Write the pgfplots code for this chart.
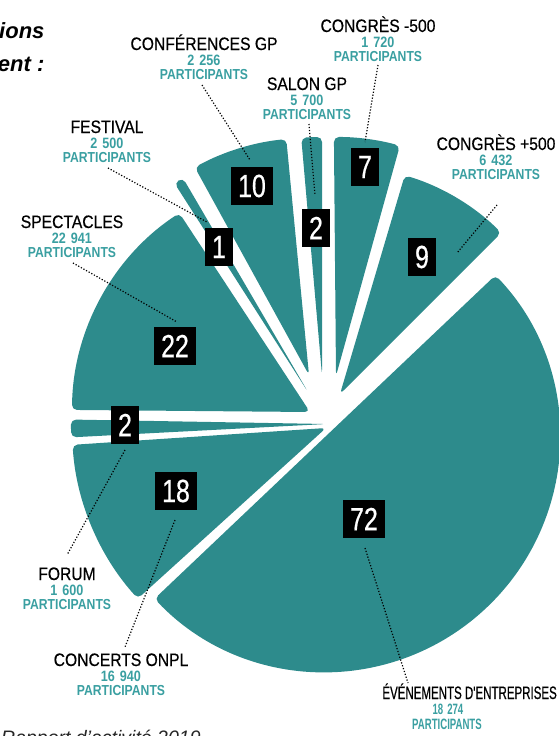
\documentclass[border=0pt]{standalone}
\usepackage{pgfplots}
\usepackage{pgfplotstable}
\pgfplotsset{compat=1.18}
\usepackage{fontspec}
\setmainfont{Liberation Sans}
\newfontfamily\cond{Liberation Sans}[FakeStretch=0.87, FakeBold=0.5]
\newfontfamily\condb{Liberation Sans}[FakeStretch=0.84]
\newfontfamily\condx{Liberation Sans}[FakeStretch=0.64, FakeBold=0.5]
\newfontfamily\condxb{Liberation Sans}[FakeStretch=0.64]
\newfontfamily\condn{Liberation Sans}[FakeStretch=0.78, FakeBold=0.6]

\definecolor{slice}{HTML}{2D8B8C}
\definecolor{num}{HTML}{3A9FA1}

\tikzset{
  boxnum/.style={fill=black, text=white, font=\condn\fontsize{32}{32}\selectfont,
    minimum height=38pt, inner xsep=7pt, inner ysep=0pt},
  leader/.style={black, line width=1.2pt, dash pattern=on 1.2pt off 1.8pt}}

% count, participants, apex (px, y down), angles, radius, box centre
\pgfplotstableread{
count part  ax  ay  aa    ab    r   bx  by
72 18274 325 437 223.5 403.5 235 364 519
18 16940 326 428 183.8 222.2 254 176 491
2  1600  326 424 179.0 183.0 255 125 425
22 22941 310 412 123.3 179.5 238 175 346
1  2500  308 392 120.3 122.6 248 219 247
10 2256  309 375 95.5  118.8 237 252 186
2  5700  322 375 90.0  95.0  238 316 228
7  1720  336 376 74.5  90.5  239 365 167
9  6432  340 394 45.0  73.5  228 422 257
}\slices

\newcommand\getv[2]{\pgfplotstablegetelem{#1}{#2}\of\slices\expandafter\let\csname v#2\endcsname\pgfplotsretval}
\newcommand\drawslice[1]{%
  \getv{#1}{ax}\getv{#1}{ay}\getv{#1}{aa}\getv{#1}{ab}\getv{#1}{r}%
  \edef\tmp{\noexpand\fill[slice, rounded corners=5pt] (axis cs:\vax,\vay) -- ++(\vaa:\vr pt)
    arc[start angle=\vaa, end angle=\vab, radius=\vr pt] -- cycle;}%
  \tmp}
\newcommand\drawbox[1]{%
  \getv{#1}{bx}\getv{#1}{by}\getv{#1}{count}%
  \edef\tmp{\noexpand\node[boxnum] at (axis cs:\vbx,\vby) {\vcount};}%
  \tmp}
\newcommand\sep{\hspace{5pt}}
% x, title baseline, title, number
\newcommand\lab[4]{%
  \node[anchor=base, inner sep=1pt, font=\cond\fontsize{18}{18}\selectfont] at (axis cs:#1,#2) {#3};
  \node[anchor=base, inner sep=1pt, text=num, font=\condb\bfseries\fontsize{15}{15}\selectfont, yshift=-15pt] at (axis cs:#1,#2) {#4};
  \node[anchor=base, inner sep=1pt, text=num, font=\condb\bfseries\fontsize{14.5}{14.5}\selectfont, yshift=-29pt] at (axis cs:#1,#2) {PARTICIPANTS};}

\begin{document}
\begin{tikzpicture}
\useasboundingbox (0,0) rectangle (559pt,736pt);
\clip (0,0) rectangle (559pt,736pt);
\begin{axis}[at={(0,0)}, anchor=south west, scale only axis,
  width=559pt, height=736pt, xmin=0, xmax=559, ymin=0, ymax=736,
  y dir=reverse, hide axis, clip=false]
\addplot[draw=none] coordinates {(0,0) (559,736)};
\pgfplotsinvokeforeach{0,...,8}{\drawslice{#1}}

% leader lines
\draw[leader] (axis cs:202,85) -- (axis cs:250,160);
\draw[leader] (axis cs:309,124) -- (axis cs:315,195);
\draw[leader] (axis cs:378,65) -- (axis cs:365,142);
\draw[leader] (axis cs:497,205) -- (axis cs:457,253);
\draw[leader] (axis cs:108,168) -- (axis cs:207,222);
\draw[leader] (axis cs:73,263) -- (axis cs:177,322);
\draw[leader] (axis cs:125,450) -- (axis cs:67,555);
\draw[leader] (axis cs:175,520) -- (axis cs:125,647);
\draw[leader] (axis cs:365,548) -- (axis cs:408,683);

\pgfplotsinvokeforeach{0,...,8}{\drawbox{#1}}

\lab{204}{50}{CONFÉRENCES GP}{2\sep256}
\lab{307}{90}{SALON GP}{5\sep700}
\lab{378}{32}{CONGRÈS -500}{1\sep720}
\lab{496}{150}{CONGRÈS +500}{6\sep432}
\lab{107}{133}{FESTIVAL}{2\sep500}
\lab{72}{228}{SPECTACLES}{22\sep941}
\lab{67}{580}{FORUM}{1\sep600}
\lab{121}{666}{CONCERTS ONPL}{16\sep940}
\node[anchor=base east, inner sep=0pt, font=\condx\fontsize{18}{18}\selectfont] at (axis cs:557,699) {ÉVÉNEMENTS D'ENTREPRISES};
\node[anchor=base, inner sep=0pt, text=num, font=\condxb\bfseries\fontsize{15}{15}\selectfont] at (axis cs:448,714) {18\hspace{4pt}274};
\node[anchor=base, inner sep=0pt, text=num, font=\condxb\bfseries\fontsize{15}{15}\selectfont] at (axis cs:447,729) {PARTICIPANTS};

% cut title and footer
\node[anchor=base east, font=\bfseries\itshape\fontsize{22}{22}\selectfont] at (axis cs:48,38) {Nombre de manifestations};
\node[anchor=base east, font=\bfseries\itshape\fontsize{22}{22}\selectfont] at (axis cs:48,71) {par type d'événement :};
\node[anchor=base west, inner sep=0pt, text=black!85, font=\itshape\fontsize{19.5}{19.5}\selectfont] at (axis cs:1,744) {Rapport d'activité 2019};
\end{axis}
\end{tikzpicture}
\end{document}
